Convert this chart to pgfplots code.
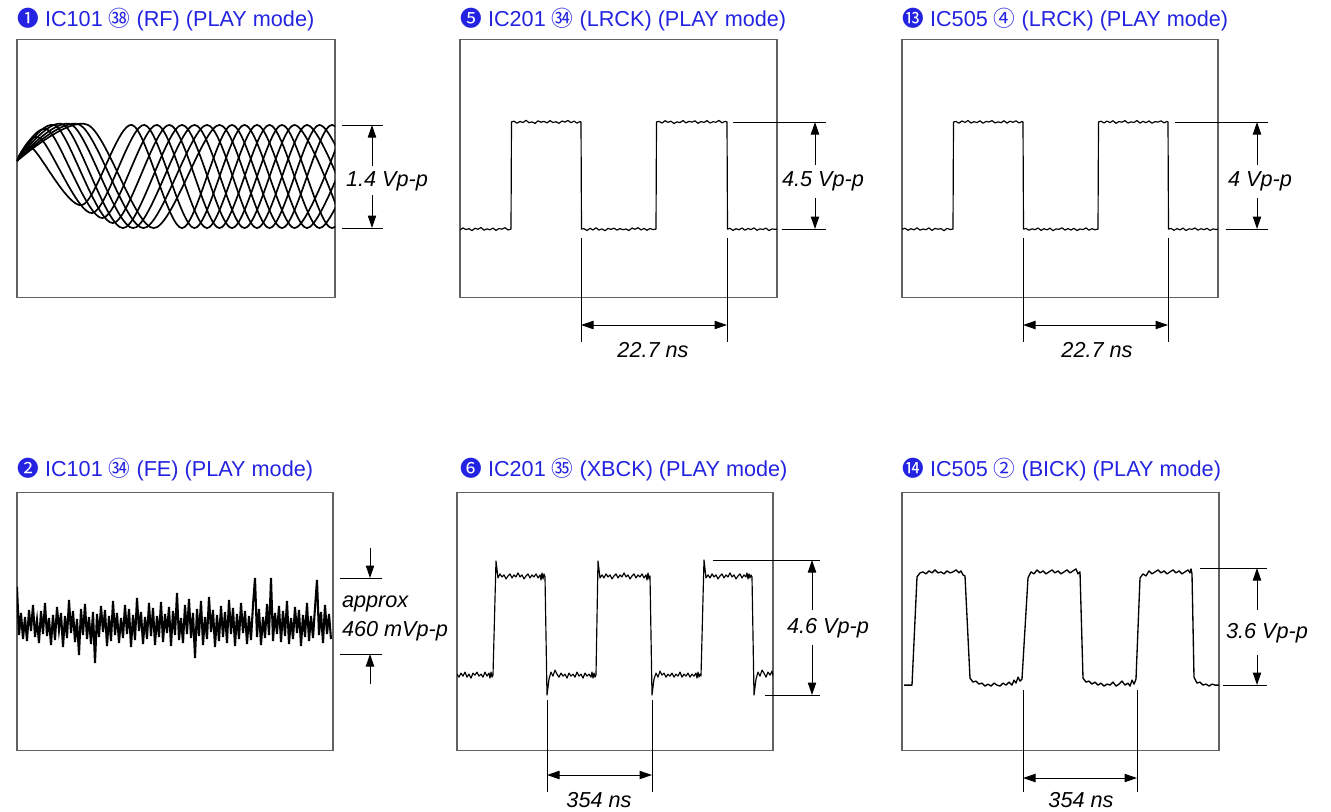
\documentclass[border=0pt]{standalone}
\usepackage{fontspec}
\setmainfont{Liberation Sans}
\newfontfamily\sym{Noto Sans CJK JP}
\usepackage{pgfplots}
\pgfplotsset{compat=1.18}
\usetikzlibrary{arrows.meta}
\definecolor{ttl}{RGB}{35,35,225}
\pgfplotsset{
  panel/.style={scale only axis, anchor=center, axis lines=box,
    axis line style={draw=black!62, line width=0.8pt},
    xtick=\empty, ytick=\empty, y dir=reverse},
  wave/.style={black, line width=0.7pt, mark=none, line join=round},
  eye/.style={black, line width=1pt, mark=none, smooth}
}
\begin{document}
\begin{tikzpicture}
\path[use as bounding box] (0,0) rectangle (798.6pt,-487.2pt);

% ---------- Panel 1: RF eye pattern ----------
\begin{axis}[panel, at={(105.6pt,-101.1pt)}, width=190.8pt, height=154.2pt,
  xmin=17, xmax=335, ymin=40, ymax=297]
\addplot[eye] coordinates {(17,161)(32,148)(82,205)(132,125)(182,228)(232,125)(282,228)(332,125)(382,228)};
\addplot[eye] coordinates {(17,161)(40,138)(92.25,213)(144.5,125)(194.5,228)(244.5,125)(294.5,228)(344.5,125)};
\addplot[eye] coordinates {(17,161)(48,130)(102.5,218)(157,125)(207,228)(257,125)(307,228)(357,125)};
\addplot[eye] coordinates {(17,161)(56,126)(112.75,223)(169.5,125)(219.5,228)(269.5,125)(319.5,228)(369.5,125)};
\addplot[eye] coordinates {(17,161)(64,125)(123,228)(182,125)(232,228)(282,125)(332,228)(382,125)};
\addplot[eye] coordinates {(17,161)(72,125)(133.25,228)(194.5,125)(244.5,228)(294.5,125)(344.5,228)};
\addplot[eye] coordinates {(17,161)(80,125)(143.5,228)(207,125)(257,228)(307,125)(357,228)};
\addplot[eye] coordinates {(17,161)(88,125)(153.75,228)(219.5,125)(269.5,228)(319.5,125)(369.5,228)};
\end{axis}

% ---------- Panel 5: LRCK ----------
\begin{axis}[panel, at={(371.1pt,-101.1pt)}, width=190.2pt, height=154.2pt,
  xmin=460, xmax=777, ymin=40, ymax=297]
\addplot[wave] coordinates {(460,229.8)(463,227.8)(466,229.5)(469,228.6)(472,230.5)(475,228.1)(478,229.2)(481,227.4)(484,230.1)(487,228.7)(490,229.7)(493,228)(496,230.3)(499,228.4)(502,229.1)(505,227.6)(508,229.9)(511,229)
(511.5,122)(514,121.2)(517,123.3)(520,121.5)(523,122.6)(526,120.4)(529,122.8)(532,121.9)(535,123.5)(538,120.9)(541,122.3)(544,121.4)(547,123)(550,120.7)(553,122.6)(556,121.8)(559,123.4)(562,121.1)(565,122.2)(568,120.5)(571,122.8)(574,121.2)(577,123.2)(580,121.6)(581,122)
(581.5,229)(584,228.6)(587,230.4)(590,228.2)(593,229.9)(596,227.7)(599,230)(602,228.8)(605,230.6)(608,228.3)(611,229.3)(614,228.1)(617,230)(620,228.5)(623,229.6)(626,228.9)(629,230.4)(632,227.9)(635,229.2)(638,227.6)(641,229.8)(644,228.3)(647,230.2)(650,228.4)(653,229.5)(656,229)
(656.5,122)(659,121.5)(662,123.1)(665,120.8)(668,122.4)(671,121.3)(674,123.6)(677,121.9)(680,122.7)(683,120.6)(686,123)(689,121.4)(692,122.2)(695,120.9)(698,123.4)(701,121.6)(704,122.5)(707,120.7)(710,123.1)(713,121.8)(716,122.3)(719,120.5)(722,122.9)(725,121.4)(727,122)
(727.5,229)(730,228.2)(733,230.3)(736,228.6)(739,229.7)(742,227.9)(745,230.1)(748,228.4)(751,229.5)(754,227.8)(757,230.2)(760,228.7)(763,229.4)(766,228)(769,230.5)(772,228.8)(775,229.3)(777,228.9)};
\end{axis}

% ---------- Panel 13: LRCK ----------
\begin{axis}[panel, at={(636pt,-101.1pt)}, width=189.6pt, height=154.2pt,
  xmin=902, xmax=1218, ymin=40, ymax=297]
\addplot[wave] coordinates {(902,229.3)(905,228.1)(908,230.2)(911,228.6)(914,229.8)(917,227.7)(920,230)(923,228.9)(926,229.6)(929,227.8)(932,230.4)(935,228.3)(938,229.1)(941,228.5)(944,230.6)(947,228.2)(950,229.4)(953,229)
(953.5,122)(956,121.6)(959,123.2)(962,121)(965,122.5)(968,120.6)(971,123.1)(974,121.8)(977,122.6)(980,120.9)(983,123.3)(986,121.5)(989,122.1)(992,120.7)(995,123)(998,121.9)(1001,122.8)(1004,120.8)(1007,123.2)(1010,121.3)(1013,122.4)(1016,120.9)(1019,123)(1022,121.7)(1023,122)
(1023.5,229)(1026,228.4)(1029,230.1)(1032,228.7)(1035,229.6)(1038,227.9)(1041,230.3)(1044,228.6)(1047,229.8)(1050,228.1)(1053,230.5)(1056,228.8)(1059,229.2)(1062,227.7)(1065,230)(1068,228.5)(1071,229.9)(1074,228.2)(1077,230.4)(1080,228.9)(1083,229.5)(1086,227.8)(1089,230.1)(1092,228.6)(1095,229.7)(1098,229)
(1098.5,122)(1101,121.3)(1104,123)(1107,121.1)(1110,122.7)(1113,120.8)(1116,123.4)(1119,121.6)(1122,122.3)(1125,120.7)(1128,123.1)(1131,121.9)(1134,122.6)(1137,120.6)(1140,123.2)(1143,121.4)(1146,122.8)(1149,121)(1152,123.3)(1155,121.7)(1158,122.2)(1161,120.9)(1164,122.9)(1167,121.5)(1168,122)
(1168.5,229)(1171,228.3)(1174,230.2)(1177,228.5)(1180,229.8)(1183,228)(1186,230.4)(1189,228.7)(1192,229.3)(1195,227.9)(1198,230.1)(1201,228.6)(1204,229.6)(1207,228.2)(1210,230.3)(1213,228.8)(1216,229.4)(1218,229)};
\end{axis}

% ---------- Panel 2: FE noise ----------
\begin{axis}[panel, at={(105pt,-372.9pt)}, width=189.6pt, height=154.2pt,
  xmin=17, xmax=333, ymin=493, ymax=750]
\addplot[wave, line width=1.25pt, line join=miter] coordinates {(17,587)(19,635)(21,613)(23,639)(25,617)(27,641)(29,610)(31,631)(33,605)(35,637)(37,620)(39,643)(41,611)(43,634)(45,603)(47,636)(49,618)(51,645)(53,615)(55,640)(57,607)(59,630)(61,613)(63,647)(65,616)(67,638)(69,600)(71,633)(73,611)(75,642)(77,619)(79,655)(81,609)(83,635)(85,604)(87,639)(89,617)(91,644)(93,612)(95,663)(97,614)(99,637)(101,606)(103,632)(105,610)(107,646)(109,616)(111,641)(113,601)(115,635)(117,613)(119,643)(121,618)(123,638)(125,605)(127,634)(129,609)(131,647)(133,615)(135,640)(137,598)(139,631)(141,612)(143,644)(145,617)(147,639)(149,603)(151,636)(153,608)(155,645)(157,616)(159,637)(161,602)(163,642)(165,614)(167,633)(169,607)(171,646)(173,611)(175,635)(177,593)(179,640)(181,618)(183,643)(185,605)(187,634)(189,599)(191,638)(193,613)(195,658)(197,609)(199,636)(201,601)(203,645)(205,617)(207,639)(209,597)(211,632)(213,610)(215,647)(217,615)(219,641)(221,606)(223,637)(225,612)(227,643)(229,600)(231,634)(233,608)(235,646)(237,614)(239,639)(241,603)(243,633)(245,611)(247,644)(249,616)(251,640)(253,605)(255,578)(257,637)(259,609)(261,645)(263,617)(265,638)(267,604)(269,635)(271,578)(273,641)(275,613)(277,634)(279,606)(281,642)(283,611)(285,636)(287,601)(289,644)(291,618)(293,639)(295,607)(297,633)(299,610)(301,646)(303,615)(305,637)(307,603)(309,641)(311,616)(313,638)(315,608)(317,580)(319,635)(321,612)(323,643)(325,605)(327,634)(329,614)(331,639)};
\end{axis}

% ---------- Panel 6: XBCK ----------
\begin{axis}[panel, at={(369pt,-372.9pt)}, width=189.6pt, height=154.2pt,
  xmin=457, xmax=773, ymin=493, ymax=750]
\addplot[wave] coordinates {(457,674)(459,677)(461,673)(463,676)(465,672)(467,677)(469,674)(471,678)(473,673)(475,675)(477,672)(479,676)(481,674)(483,677)(485,672)(487,676)(489,673)(490,678)(491,672)(492,677)(493,675)
(496,561)(498,578)(500,574)(502,577)(504,575)(506,579)(508,576)(510,574)(512,578)(514,575)(516,577)(518,573)(520,577)(522,575)(524,579)(526,576)(528,574)(530,578)(532,575)(534,577)(536,574)(538,578)(540,575)(541,580)(542,573)(543,579)(544,574)(545,577)
(547,695)(549,679)(551,672)(553,676)(555,670)(557,674)(559,677)(561,673)(563,676)(565,674)(567,678)(569,673)(571,676)(573,674)(575,677)(577,672)(579,676)(581,674)(583,678)(585,673)(587,676)(589,674)(591,677)(592,672)(593,678)(594,673)(595,677)(596,675)
(598,561)(600,578)(602,575)(604,578)(606,574)(608,577)(610,575)(612,579)(614,576)(616,574)(618,578)(620,575)(622,577)(624,573)(626,577)(628,575)(630,579)(632,576)(634,574)(636,578)(638,575)(640,577)(642,574)(644,578)(646,575)(647,580)(648,573)(649,579)(650,576)
(652,695)(654,679)(656,673)(658,677)(660,671)(662,675)(664,673)(666,677)(668,674)(670,676)(672,673)(674,677)(676,674)(678,676)(680,672)(682,677)(684,674)(686,676)(688,673)(690,677)(692,674)(694,676)(696,673)(697,678)(698,672)(699,677)(700,674)(701,676)
(704,560)(706,578)(708,575)(710,578)(712,574)(714,577)(716,575)(718,579)(720,576)(722,574)(724,578)(726,575)(728,577)(730,573)(732,577)(734,575)(736,579)(738,576)(740,574)(742,578)(744,575)(746,577)(747,573)(748,579)(749,574)(750,578)(751,575)(752,577)
(754,695)(756,679)(758,672)(760,676)(762,670)(764,673)(766,677)(768,672)(770,675)(772,671)(773,676)};
\end{axis}

% ---------- Panel 14: BICK ----------
\begin{axis}[panel, at={(636.3pt,-372.9pt)}, width=190.2pt, height=154.2pt,
  xmin=902, xmax=1219, ymin=493, ymax=750]
\addplot[wave, line width=0.8pt] coordinates {(904,685)(912,685)(917,577)(920,573)(923,572)(926,574)(929,571)(932,573)(935,570)(938,573)(941,572)(944,574)(947,571)(950,573)(953,572)(956,570)(959,573)(961,571)(963,575)(965,576)
(970,678)(973,682)(976,681)(979,684)(982,683)(985,686)(988,684)(991,686)(994,683)(997,685)(1000,686)(1003,683)(1006,685)(1009,682)(1012,685)(1014,680)(1016,683)(1018,677)(1020,681)(1022,679)
(1028,578)(1031,572)(1034,574)(1037,570)(1040,573)(1043,571)(1046,574)(1049,572)(1052,570)(1055,573)(1058,571)(1061,574)(1064,572)(1067,570)(1070,573)(1073,571)(1076,569)(1078,574)(1080,572)
(1083,678)(1086,682)(1089,681)(1092,684)(1095,682)(1098,685)(1101,683)(1104,686)(1107,684)(1110,685)(1113,682)(1116,686)(1119,684)(1122,681)(1125,685)(1128,683)(1130,686)(1132,680)(1134,684)(1136,679)
(1140,578)(1143,574)(1146,576)(1149,571)(1152,574)(1155,572)(1158,570)(1161,573)(1164,571)(1167,574)(1170,572)(1173,570)(1176,573)(1179,571)(1182,574)(1185,572)(1188,570)(1190,573)(1191,569)(1192,574)
(1194,677)(1197,683)(1200,682)(1203,685)(1206,684)(1209,686)(1212,684)(1215,685)(1218,685)(1220,685)};
\end{axis}

% ---------- titles and annotations ----------
\begin{scope}[x=0.6pt, y=-0.6pt, font=\fontsize{13}{15}\selectfont,
  ann/.style={black, line width=0.6pt},
  arr/.style={black, line width=0.6pt, -{Triangle[length=7.5pt,width=5pt]}},
  darr/.style={black, line width=0.6pt, {Triangle[length=7.5pt,width=5pt]}-{Triangle[length=7.5pt,width=5pt]}},
  lbl/.style={font=\fontsize{13}{15}\selectfont\itshape, inner sep=1pt}]
\node[anchor=base west, inner sep=0, text=ttl] at (17,26.5) {{\sym ❶} IC101 {\sym ㊳} (RF) (PLAY mode)};
\node[anchor=base west, inner sep=0, text=ttl] at (460,26.5) {{\sym ❺} IC201 {\sym ㉞} (LRCK) (PLAY mode)};
\node[anchor=base west, inner sep=0, text=ttl] at (902,26.5) {{\sym ⓭} IC505 {\sym ④} (LRCK) (PLAY mode)};
\node[anchor=base west, inner sep=0, text=ttl] at (17,476.5) {{\sym ❷} IC101 {\sym ㉞} (FE) (PLAY mode)};
\node[anchor=base west, inner sep=0, text=ttl] at (460,476.5) {{\sym ❻} IC201 {\sym ㉟} (XBCK) (PLAY mode)};
\node[anchor=base west, inner sep=0, text=ttl] at (902,476.5) {{\sym ⓮} IC505 {\sym ②} (BICK) (PLAY mode)};

% panel 1
\draw[ann] (342,125)--(383,125);
\draw[ann] (342,228)--(383,228);
\draw[arr] (372,166)--(372,125);
\draw[arr] (372,195)--(372,228);
\node[lbl] at (387,181) {1.4 Vp-p};

% panel 5
\draw[ann] (733,122)--(826,122);
\draw[ann] (782,229)--(826,229);
\draw[arr] (815,165)--(815,122);
\draw[arr] (815,198)--(815,229);
\node[lbl] at (823,181) {4.5 Vp-p};
\draw[ann] (581,238)--(581,342);
\draw[ann] (727,238)--(727,342);
\draw[darr] (581,325)--(727,325);
\node[lbl] at (653,350) {22.7 ns};

% panel 13
\draw[ann] (1175,122)--(1268,122);
\draw[ann] (1226,229)--(1268,229);
\draw[arr] (1257,165)--(1257,122);
\draw[arr] (1257,198)--(1257,229);
\node[lbl] at (1260,181) {4 Vp-p};
\draw[ann] (1023,238)--(1023,342);
\draw[ann] (1168,238)--(1168,342);
\draw[darr] (1023,325)--(1168,325);
\node[lbl] at (1097,350) {22.7 ns};

% panel 2
\draw[ann] (340,578)--(382,578);
\draw[ann] (340,654)--(382,654);
\draw[arr] (370,548)--(370,578);
\draw[arr] (370,684)--(370,654);
\node[lbl, anchor=west] at (340,604) {approx};
\node[lbl, anchor=west] at (340,631) {460 mVp-p};

% panel 6
\draw[ann] (713,560)--(820,560);
\draw[ann] (765,695)--(820,695);
\draw[arr] (812,610)--(812,560);
\draw[arr] (812,645)--(812,695);
\node[lbl] at (828,628) {4.6 Vp-p};
\draw[ann] (547,700)--(547,792);
\draw[ann] (652,700)--(652,792);
\draw[darr] (547,775)--(652,775);
\node[lbl] at (599,800) {354 ns};

% panel 14
\draw[ann] (1200,568)--(1267,568);
\draw[ann] (1223,685)--(1267,685);
\draw[arr] (1257,610)--(1257,568);
\draw[arr] (1257,655)--(1257,685);
\node[lbl] at (1267,633) {3.6 Vp-p};
\draw[ann] (1023,690)--(1023,792);
\draw[ann] (1137,690)--(1137,792);
\draw[darr] (1023,778)--(1137,778);
\node[lbl] at (1081,800) {354 ns};
\end{scope}
\end{tikzpicture}
\end{document}
